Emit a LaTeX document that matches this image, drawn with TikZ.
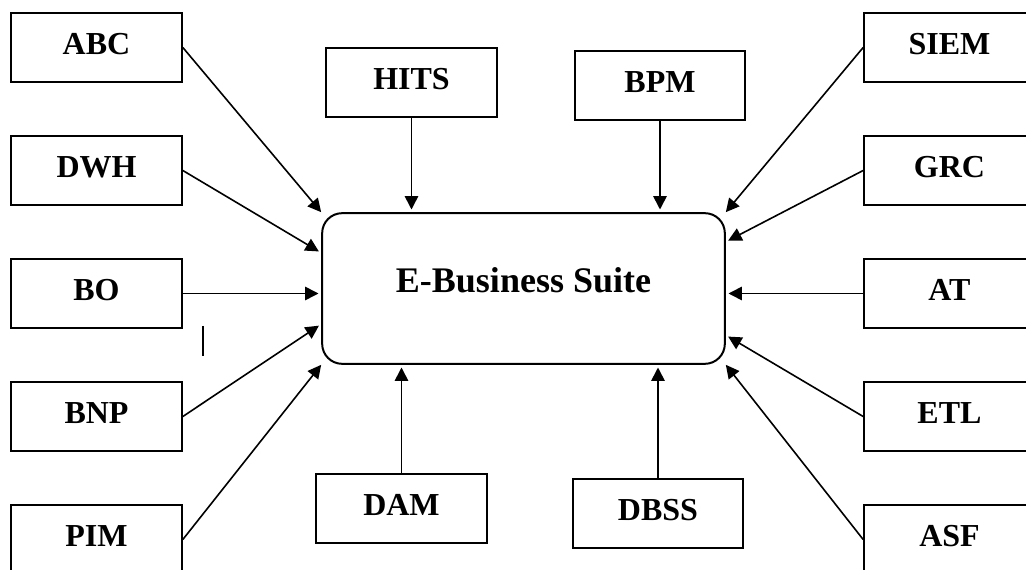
\documentclass[tikz,border=0pt]{standalone}
\usepackage{fontspec}
\setmainfont{Liberation Serif}
\usetikzlibrary{arrows.meta,positioning}

\begin{document}
\begin{tikzpicture}[
    x=0.75pt, y=-0.75pt,
    node distance=39pt and 0pt,
    every node/.style={font=\bfseries\fontsize{24}{28}\selectfont, align=center},
    box/.style={draw, line width=1.5pt, minimum width=128pt, minimum height=51.75pt,
        text height=16pt, text depth=6pt},
    hub/.style={draw, line width=1.5pt, rounded corners=15pt, minimum width=302pt,
        minimum height=113pt, font=\bfseries\fontsize{27}{32}\selectfont,
        text height=18pt, text depth=12pt},
    arr/.style={-{Triangle[length=10pt,width=10pt]}, line width=1.2pt, shorten >=2pt}
]
\clip (0,0) rectangle (1026,570);

\node (ebs) [hub] at (523.5,288.5) {E-Business Suite};

% left column
\node (abc) [box] at (96.5,47.5) {ABC};
\node (dwh) [box, below=of abc] {DWH};
\node (bo)  [box, below=of dwh] {BO};
\node (bnp) [box, below=of bo] {BNP};
\node (pim) [box, below=of bnp] {PIM};

% right column
\node (siem) [box] at (949.5,47.5) {SIEM};
\node (grc)  [box, below=of siem] {GRC};
\node (at)   [box, below=of grc] {AT};
\node (etl)  [box, below=of at] {ETL};
\node (asf)  [box, below=of etl] {ASF};

% top and bottom
\node (hits) [box] at (411.5,83) {HITS};
\node (bpm)  [box] at (660,86) {BPM};
\node (dam)  [box] at (401.5,508.5) {DAM};
\node (dbss) [box] at (658,513.5) {DBSS};

\draw[arr, shorten >=0pt] (abc.east) -- (ebs.north west);
\draw[arr] (dwh.east) -- (ebs.170);
\draw[arr] (bo.east) -- (bo.east -| ebs.west);
\draw[arr] (bnp.east) -- (ebs.190);
\draw[arr, shorten >=0pt] (pim.east) -- (ebs.south west);

\draw[arr, shorten >=0pt] (siem.west) -- (ebs.north east);
\draw[arr] (grc.west) -- (ebs.13);
\draw[arr] (at.west) -- (at.west -| ebs.east);
\draw[arr] (etl.west) -- (ebs.347);
\draw[arr, shorten >=0pt] (asf.west) -- (ebs.south east);

\draw[arr] (hits.south) -- (hits.south |- ebs.north);
\draw[arr] (bpm.south) -- (bpm.south |- ebs.north);
\draw[arr] (dam.north) -- (dam.north |- ebs.south);
\draw[arr] (dbss.north) -- (dbss.north |- ebs.south);

% stray tick left of the hub
\draw[line width=1pt] (203,326) -- (203,356);
\end{tikzpicture}
\end{document}
